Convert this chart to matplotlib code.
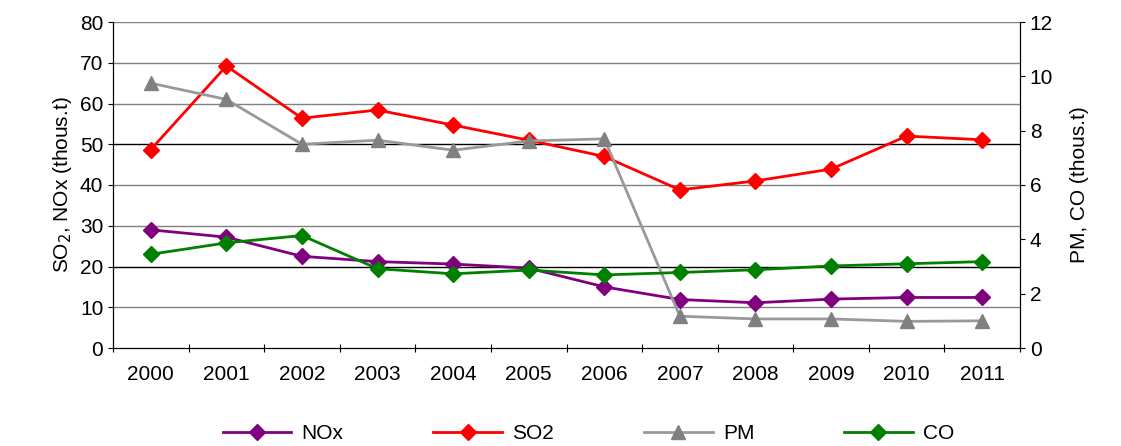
import matplotlib
matplotlib.use("Agg")
import matplotlib.pyplot as plt
import numpy as np

plt.rcParams['font.family'] = ['Liberation Sans', 'DejaVu Sans']

years = [str(y) for y in range(2000, 2012)]
nox = [29, 27.2, 22.5, 21.2, 20.6, 19.6, 15, 11.9, 11.1, 12, 12.4, 12.4]
so2 = [48.7, 69.2, 56.4, 58.4, 54.7, 51, 47, 38.8, 41, 43.9, 52, 51.1]
pm = [9.75, 9.15, 7.5, 7.65, 7.28, 7.62, 7.7, 1.17, 1.07, 1.07, 0.98, 1.0]
co = [3.45, 3.87, 4.14, 2.92, 2.73, 2.87, 2.69, 2.78, 2.88, 3.02, 3.1, 3.18]

W, H = 1121, 446
fig = plt.figure(figsize=(W/100, H/100), dpi=100)
ax = fig.add_axes([113/W, 1-348/H, (1020-113)/W, (348-22)/H])
ax2 = ax.twinx()
x = np.arange(len(years))

for v in range(10, 90, 10):
    ax.axhline(v, color='black' if v in (20, 50) else '#808080', lw=1, zorder=0)

ax.plot(x, nox, color='#800080', marker='D', ms=8, lw=2, label='NOx', zorder=3)
ax.plot(x, so2, color='#FF0000', marker='D', ms=8, lw=2, label='SO2', zorder=3)
l3, = ax2.plot(x, pm, color='#999999', marker='^', ms=10, lw=2, mfc='#808080', mec='#808080', label='PM')
l4, = ax2.plot(x, co, color='#008000', marker='D', ms=8, lw=2, label='CO')

ax.set_xlim(-0.5, 11.5)
ax.set_ylim(0, 80)
ax2.set_ylim(0, 12)
ax.set_yticks(range(0, 90, 10))
ax2.set_yticks(range(0, 14, 2))
ax.set_xticks(np.arange(-0.5, 12, 1), minor=False)
ax.set_xticklabels([])
ax.set_xticks(x, minor=True)
ax.set_xticklabels(years, minor=True, fontsize=15)
ax.tick_params(axis='x', which='minor', length=0, pad=12)
ax.tick_params(axis='x', which='major', length=6, direction='inout')
ax.tick_params(axis='y', labelsize=15)
ax2.tick_params(axis='y', labelsize=15)
for a in (ax, ax2):
    a.spines['top'].set_visible(False)
ax.set_ylabel('SO$_2$, NOx (thous.t)', fontsize=15)
ax2.set_ylabel('PM, CO (thous.t)', fontsize=15, labelpad=12)

h1, lab1 = ax.get_legend_handles_labels()
fig.legend(h1 + [l3, l4], lab1 + ['PM', 'CO'], loc='lower center', ncol=4,
           bbox_to_anchor=(0.525, -0.035), frameon=False, fontsize=15,
           handlelength=3.3, handletextpad=0.5, columnspacing=4.3)
fig.savefig('out.png', dpi=100)
